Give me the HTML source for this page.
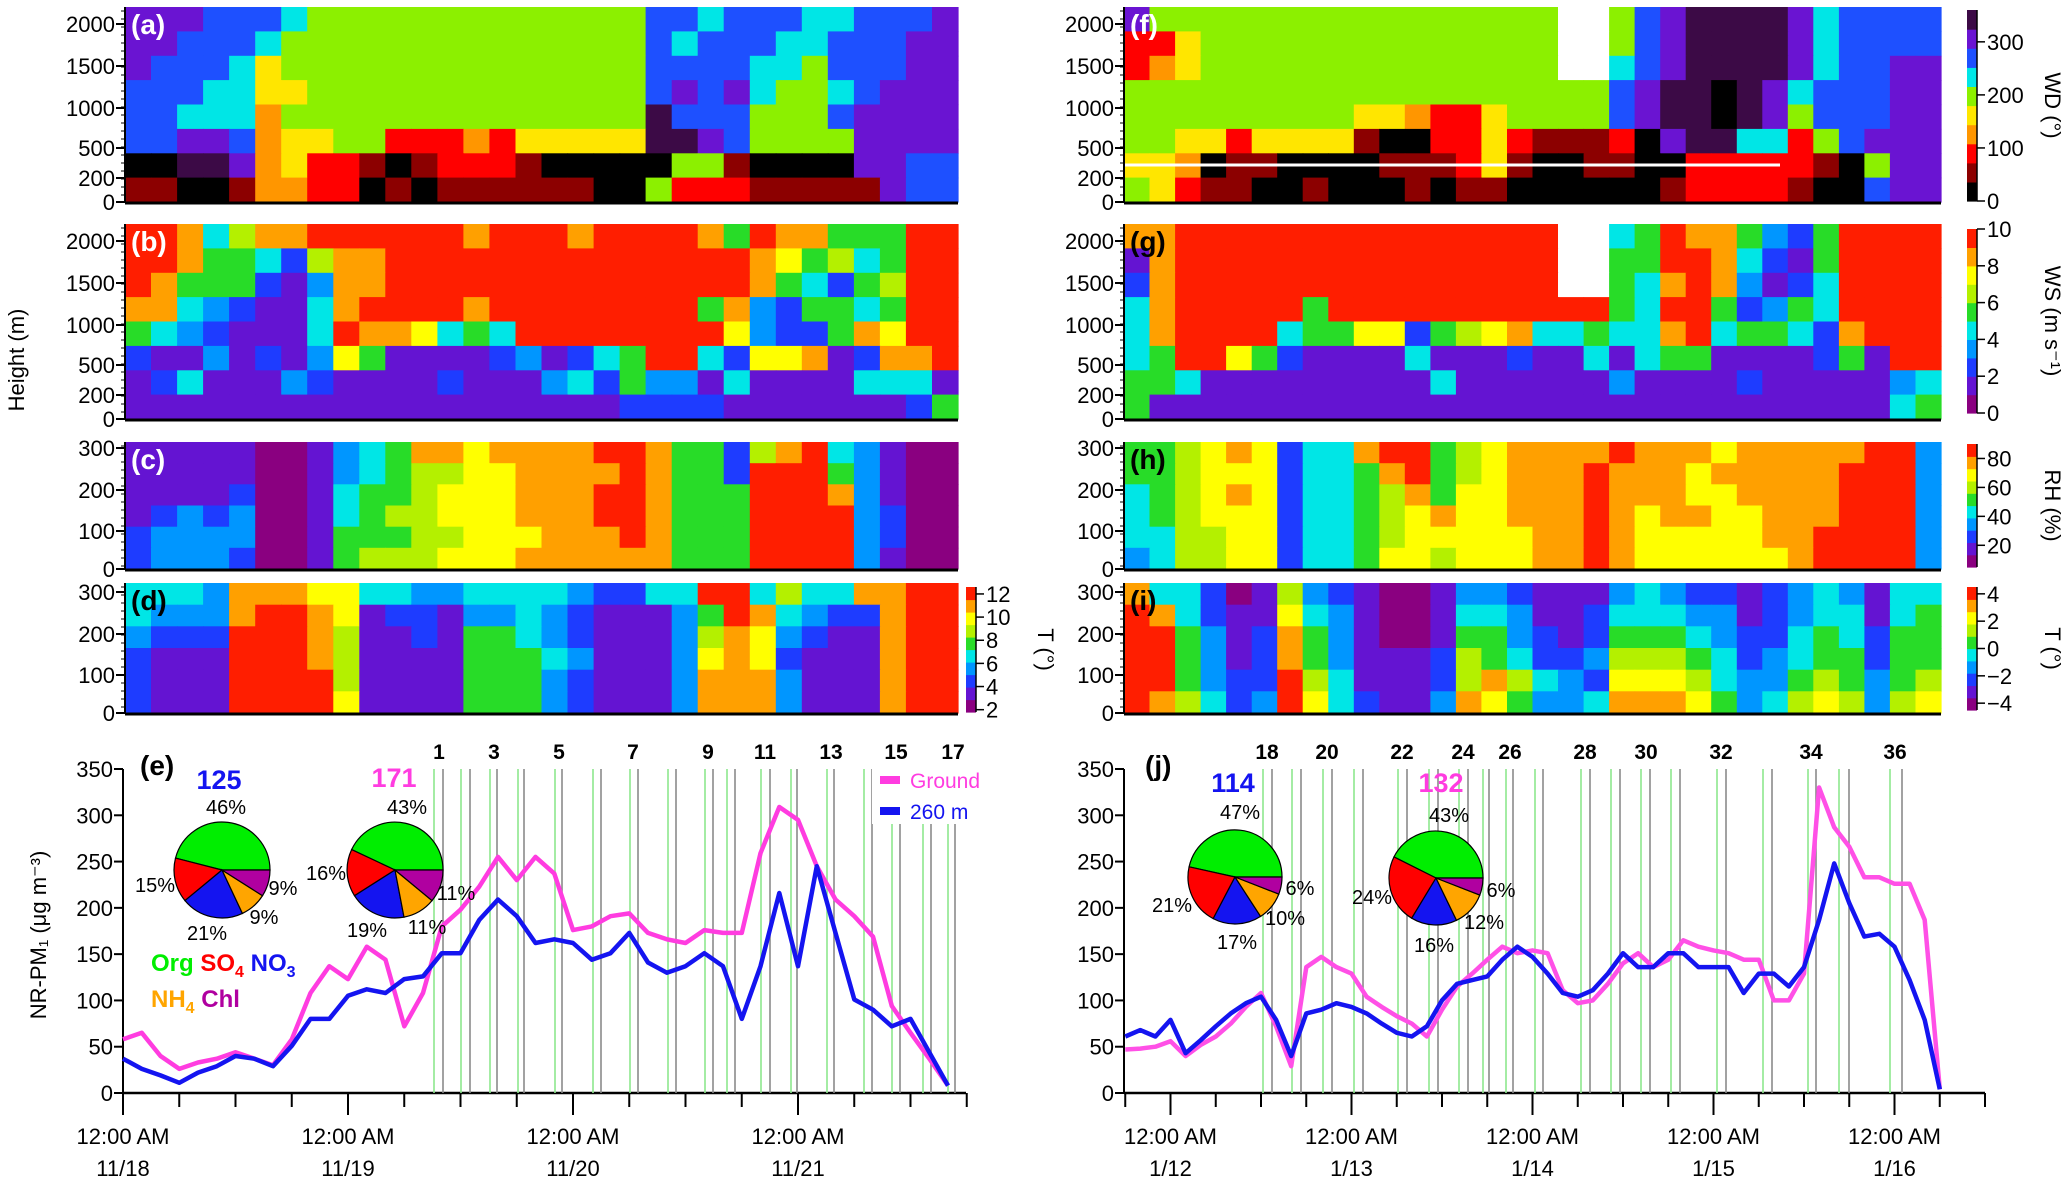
<!DOCTYPE html>
<html><head><meta charset="utf-8"><style>
html,body{margin:0;padding:0;background:#fff;}
svg{display:block;font-family:"Liberation Sans",sans-serif;}
</style></head><body>
<svg id="fig" width="2067" height="1183" viewBox="0 0 2067 1183" xmlns="http://www.w3.org/2000/svg">
<g id="heat"></g>
<g id="axes"></g>
<g id="lines"></g>
<g id="ann"></g>
</svg>
<script>
// ---------- heatmap data (level digits 0-9, '-' = missing) ----------
const panelA = ["88877765555555555555776777667778","88777655555555555555767776677788","87776455555555555555777766577788","77766445555555555555787865567888","77666355555555555555977755578888","77887344552223244444998755558888","00998342210122210000055100008877","11001332201011111100522211111877"];
const panelB = ["99846889999998999899998598855599","99855426889999999999999987564599","98555213889999999999999985425699","88432114899998999999995832554599","54321114988745499999999732258799","21131213751111231245994277812889","12411132111121113425331411114441","11111111111111111112222111111125"];
const panelC = ["11111001345887888899855268943100","11111001345667788889855299953100","11112001455677788899855599983100","12323001456677788899855599993200","23333001555667778889855599993200","23332001566677788888855599993100"];
const panelD = ["44438887744334444322449946448899","43338998712213343211135984322899","32229998611215543211136873211899","21119998611115554311137872111899","21119999611115553211138883111899","21119999711115553211138883111899"];
const panelF = ["85555555555555555--5789999867777","22455555555555555--5789999867777","23455555555555555--6789999867788","55555555555555555557899098677788","55555555544322455557899098577788","55442444410022421112089966257888","44301100001112410011002222210588","54211001000101100000012222100788"];
const panelG = ["88999999999999999--4598853259999","18999999999999999--5599842159999","28999999999999999--5489831249999","48999995999999999995499523549999","48999945577256784454489455428999","45997521111411121141455111125199","55411111111141111113111121111134","51111111111111111111111111111145"];
const panelH = ["55678724489956788889888788888993","55677724458956788898887888889993","45678724456857788898887788889993","45677724456787788898788778889993","44667724456777778898777778899993","34667724457767778898777777899993"];
const panelI = ["84420163210013321113432212343144","98421174310014431124443312344145","99531285310015532125554322454255","99531285311126542236665423455255","99532296411126864327776433565356","98642397421138753348887534676367"];
const rainbow = ['#8a0080','#6414d2','#1e3cff','#0096ff','#00e6e6','#28dc28','#b4f000','#ffff00','#ffa000','#ff1e00'];
const wdColors = ['#000000','#8c0000','#ff0000','#ff9600','#ffe600','#8cf000','#00e6e6','#1e50ff','#6a14d2','#3c0a46'];

// ---------- PM1 time series ----------
const leftHours = [0,2,4,6,8,10,12,14,16,18,20,22,24,26,28,30,32,34,36,38,40,42,44,46,48,50,52,54,56,58,60,62,64,66,68,70,72,74,76,78,80,82,84,86,88];
const leftGround = [58,65,40,26,33,37,44,37,30,58,108,137,123,158,144,72,108,180,198,223,255,230,255,237,176,180,191,194,173,166,162,176,173,173,259,309,295,245,209,191,169,94,65,37,8];
const left260 = [37,26,19,11,22,29,40,37,29,51,80,80,105,112,108,123,126,151,151,187,209,191,162,166,162,144,151,173,141,130,137,151,137,80,137,216,137,245,173,101,90,72,80,44,8];
const rightHours = [-6,-4,-2,0,2,4,6,8,10,12,14,16,18,20,22,24,26,28,30,32,34,36,38,40,42,44,46,48,50,52,54,56,58,60,62,64,66,68,70,72,74,76,78,80,82,84,86,88,90,92,94,96,98,100,102];
const rightGround = [47,48,50,56,40,52,61,75,93,108,72,29,136,147,136,129,104,93,83,75,61,90,115,129,144,158,151,154,151,111,97,100,118,140,151,136,144,165,158,154,151,144,144,100,100,129,330,287,266,233,233,226,226,187,4];
const right260 = [61,68,61,79,43,57,72,86,97,104,79,40,86,90,97,93,86,75,65,61,72,100,118,122,126,144,158,147,129,108,104,111,129,151,136,136,151,151,136,136,136,108,129,129,115,136,187,248,205,169,172,158,122,79,4];
const yTicksPM = [0,50,100,150,200,250,300,350];
const leftDays = ["11/18","11/19","11/20","11/21"];
const rightDays = ["1/12","1/13","1/14","1/15","1/16"];
const leftEventLabels = ["1","3","5","7","9","11","13","15","17"];
const rightEventLabels = ["18","20","22","24","26","28","30","32","34","36"];
const pieLabelsNames = ["Org","SO4","NO3","NH4","Chl"];
const pieE1 = [46,15,21,9,9];
const pieE2 = [43,16,19,11,11];
const pieJ1 = [47,21,17,10,6];
const pieJ2 = [43,24,16,12,6];
const pieTotals = [125,171,114,132];

const NS='http://www.w3.org/2000/svg';
function el(tag, attrs, parent){const e=document.createElementNS(NS,tag);for(const k in attrs)e.setAttribute(k,attrs[k]);parent.appendChild(e);return e;}
function txt(parent,x,y,s,size,opts){opts=opts||{};const t=el('text',{x:x,y:y,'font-size':size,fill:opts.fill||'#000','text-anchor':opts.anchor||'start'},parent);if(opts.bold)t.setAttribute('font-weight','bold');if(opts.rot)t.setAttribute('transform','rotate('+opts.rot+' '+x+' '+y+')');t.textContent=s;return t;}
const heat=document.getElementById('heat'), axes=document.getElementById('axes'), lines=document.getElementById('lines'), ann=document.getElementById('ann');

function drawHeat(rows, pal, x0,x1,y0,y1,name){
  const g=el('g',{},heat);
  
  
  const cols=32, nr=rows.length, cw=(x1-x0)/cols, ch=(y1-y0)/nr;
  rows.forEach((row,r)=>{
    let s=row; while(s.length<cols)s+=s[s.length-1];
    for(let c=0;c<cols;c++){
      const d=s[c]; const fill = d==='-' ? '#ffffff' : pal[+d];
      const rc=el('rect',{x:(x0+c*cw).toFixed(1),y:(y0+r*ch).toFixed(1),width:(cw+0.6).toFixed(1),height:(ch+0.6).toFixed(1),fill:fill},g);
      
      
    }
  });
}
const LX0=125,LX1=958,RX0=1124,RX1=1941;
const panY=[[7,202],[224,419],[442,569],[583,713]];
drawHeat(panelA,wdColors,LX0,LX1,panY[0][0],panY[0][1],'panel-a-wind-direction');
drawHeat(panelB,rainbow,LX0,LX1,panY[1][0],panY[1][1],'panel-b-wind-speed');
drawHeat(panelC,rainbow,LX0,LX1,panY[2][0],panY[2][1],'panel-c-rh');
drawHeat(panelD,rainbow,LX0,LX1,panY[3][0],panY[3][1],'panel-d-temperature');
drawHeat(panelF,wdColors,RX0,RX1,panY[0][0],panY[0][1],'panel-f-wind-direction');
drawHeat(panelG,rainbow,RX0,RX1,panY[1][0],panY[1][1],'panel-g-wind-speed');
drawHeat(panelH,rainbow,RX0,RX1,panY[2][0],panY[2][1],'panel-h-rh');
drawHeat(panelI,rainbow,RX0,RX1,panY[3][0],panY[3][1],'panel-i-temperature');
el('line',{x1:RX0,x2:1780,y1:165,y2:165,stroke:'#fff','stroke-width':3},heat);

// heatmap axes
const hTicksTall=[[0,202],[200,178],[500,148],[1000,108],[1500,66],[2000,24]];
const hTicksShort=[[0,569],[100,531],[200,490],[300,448]];
function heatAxes(x0,x1,y0,y1,ticks,off,label,lblColor){
  el('line',{x1:x0,x2:x1,y1:y1+1,y2:y1+1,stroke:'#000','stroke-width':3},axes);
  el('line',{x1:x0,x2:x0,y1:y0,y2:y1,stroke:'#000','stroke-width':2},axes);
  for(let y=y0+4;y<y1;y+=8) el('line',{x1:x0-4,x2:x0,y1:y,y2:y,stroke:'#000','stroke-width':1},axes);
  ticks.forEach(t=>{const y=t[1]+off;el('line',{x1:x0-9,x2:x0,y1:y,y2:y,stroke:'#000','stroke-width':2},axes);
    const tt=txt(axes,x0-10,y+8,String(t[0]),22,{anchor:'end'});
    
    });
  const pl=txt(axes,x0+6,y0+27,label,28,{bold:true,fill:lblColor});
  
  
}
heatAxes(LX0,LX1,7,202,hTicksTall,0,'(a)','#fff');
heatAxes(LX0,LX1,224,419,hTicksTall,217,'(b)','#fff');
heatAxes(LX0,LX1,442,569,hTicksShort,0,'(c)','#fff');
heatAxes(LX0,LX1,583,713,hTicksShort,144,'(d)','#000');
heatAxes(RX0,RX1,7,202,hTicksTall,0,'(f)','#fff');
heatAxes(RX0,RX1,224,419,hTicksTall,217,'(g)','#000');
heatAxes(RX0,RX1,442,569,hTicksShort,0,'(h)','#000');
heatAxes(RX0,RX1,583,713,hTicksShort,144,'(i)','#000');
const hl=txt(axes,24,360,'Height (m)',22,{anchor:'middle',rot:-90});



// colorbars
function colorbar(x,y0,y1,pal,ticks,vmin,vmax,title,tx){
  const n=pal.length,h=(y1-y0)/n;
  for(let i=0;i<n;i++){el('rect',{x:x,y:(y1-(i+1)*h).toFixed(1),width:10,height:(h+0.6).toFixed(1),fill:pal[i]},axes);}
  el('line',{x1:x+10,x2:x+10,y1:y0,y2:y1,stroke:'#000','stroke-width':1.5},axes);
  ticks.forEach(v=>{const y=y1-(v-vmin)/(vmax-vmin)*(y1-y0);el('line',{x1:x+10,x2:x+18,y1:y,y2:y,stroke:'#000','stroke-width':1.5},axes);
    const t=txt(axes,x+20,y+8,String(v).replace('-','\u2212'),22);
    
    });
  const tt=txt(axes,tx,(y0+y1)/2,title,22,{anchor:'middle',rot:90});
  
  
}
const wdBar=['#000000','#8c0000','#ff0000','#ff9600','#ffe600','#8cf000','#00e6e6','#1e50ff','#6a14d2','#3c0a46'];
colorbar(1967,10,201,wdBar,[0,100,200,300],0,360,'WD (°)',2045);
colorbar(1967,229,413,rainbow,[0,2,4,6,8,10],0,10,'WS (m s⁻¹)',2045);
colorbar(1967,444,567,rainbow,[20,40,60,80],5,90,'RH (%)',2045);
colorbar(1967,587,710,rainbow,[-4,-2,0,2,4],-4.5,4.5,'T (°)',2045);
colorbar(966,587,712,rainbow,[2,4,6,8,10,12],1.8,12.6,'T (°)',1038);

// ---------- PM1 charts ----------
const Y0=1093, YS=324/350;
function yv(v){return Y0-v*YS;}
function xL(h){return 123+h/24*225;}
function xR(h){return 1170.5+h/24*181;}
function pmAxes(xa,xb,xday0,dayW,days,ndays){
  el('line',{x1:xa,x2:xb,y1:Y0,y2:Y0,stroke:'#000','stroke-width':2.5},axes);
  el('line',{x1:xa,x2:xa,y1:769,y2:Y0,stroke:'#000','stroke-width':2},axes);
  yTicksPM.forEach(v=>{el('line',{x1:xa-9,x2:xa,y1:yv(v),y2:yv(v),stroke:'#000','stroke-width':2},axes);
    const t=txt(axes,xa-10,yv(v)+8,String(v),22,{anchor:'end'});
    
    });
  for(let q=-4;q<=ndays*4;q++){const x=xday0+q*dayW/4;if(x<xa-1||x>xb+1)continue;
    const major=q%4===0;el('line',{x1:x,x2:x,y1:Y0,y2:Y0+(major?22:14),stroke:'#000','stroke-width':2},axes);}
  days.forEach((d,i)=>{const x=xday0+i*dayW;
    const a=txt(axes,x,1144,'12:00 AM',22,{anchor:'middle'});
    
    
    const b=txt(axes,x,1176,d,22,{anchor:'middle'});
    
    });
}
pmAxes(123,966,123,225,leftDays,4);
pmAxes(1124,1985,1170.5,181,rightDays,5);
const yl=txt(axes,46,935,'NR-PM₁ (μg m⁻³)',22,{anchor:'middle',rot:-90});



// event lines
const leftGreen=[434,461,490,518,555,593,630,668,705,727,761,791,827,864,892,923,948];
const leftGray=[443,470,497,524,562,601,638,676,713,735,770,797,834,872,900,931,955];
const rightGreen=[1263,1292,1323,1354,1398,1429,1459,1483,1506,1535,1581,1611,1641,1671,1717,1763,1808,1839,1890];
const rightGray=[1272,1301,1332,1363,1407,1438,1468,1489,1513,1543,1590,1620,1650,1680,1726,1772,1816,1849,1902];
function evLines(arr,col){arr.forEach(x=>{const l=el('line',{x1:x,x2:x,y1:769,y2:Y0,stroke:col,'stroke-width':1.6},lines);
  
  });}
evLines(leftGreen,'#8ee88e');evLines(leftGray,'#8a8a8a');evLines(rightGreen,'#8ee88e');evLines(rightGray,'#8a8a8a');
const leftEvX=[439,494,559,633,708,765,831,896,953];
const rightEvX=[1267,1327,1402,1463,1510,1585,1646,1721,1811,1895];
leftEventLabels.forEach((s,i)=>{const t=txt(ann,leftEvX[i],759,s,21,{anchor:'middle',bold:true});
  
  });
rightEventLabels.forEach((s,i)=>{const t=txt(ann,rightEvX[i],759,s,21,{anchor:'middle',bold:true});
  
  });

function series(hours,vals,xf,color,name){
  const pts=hours.map((h,i)=>xf(h).toFixed(1)+','+yv(vals[i]).toFixed(1)).join(' ');
  const p=el('polyline',{points:pts,fill:'none',stroke:color,'stroke-width':4.5,'stroke-linejoin':'round'},lines);
  
  
}
series(leftHours,leftGround,xL,'#ff3ce0','ground-line-left');
series(leftHours,left260,xL,'#1414f0','260m-line-left');
series(rightHours,rightGround,xR,'#ff50e6','ground-line-right');
series(rightHours,right260,xR,'#1414f0','260m-line-right');

// legend (left)
el('rect',{x:872,y:764,width:95,height:60,fill:'#fff'},ann);
const lg1=el('rect',{x:880,y:776,width:20,height:8,fill:'#ff3ce0'},ann);


const lt1=txt(ann,910,788,'Ground',21,{fill:'#ff3ce0'});


const lg2=el('rect',{x:880,y:807,width:20,height:8,fill:'#1414f0'},ann);


const lt2=txt(ann,910,819,'260 m',21,{fill:'#1414f0'});



txt(ann,140,775,'(e)',28,{bold:true});
txt(ann,1145,775,'(j)',28,{bold:true});

// pies
const pieCols=['#00ee00','#ff0000','#1414f0','#ffa500','#b000a0'];
function pie(cx,cy,r,vals,labels,name){
  const g=el('g',{},ann);
  
  
  const tot=vals.reduce((a,b)=>a+b,0);let a0=0;
  vals.forEach((v,i)=>{const a1=a0+v/tot*2*Math.PI;
    const x0=cx+r*Math.cos(a0),y0=cy-r*Math.sin(a0),x1=cx+r*Math.cos(a1),y1=cy-r*Math.sin(a1);
    const large=(a1-a0)>Math.PI?1:0;
    const p=el('path',{d:`M${cx},${cy} L${x0.toFixed(1)},${y0.toFixed(1)} A${r},${r} 0 ${large} 0 ${x1.toFixed(1)},${y1.toFixed(1)} Z`,fill:pieCols[i],stroke:'#000','stroke-width':1.2},g);
    
    
    a0=a1;});
  labels.forEach(l=>{const t=txt(ann,l[0],l[1]+7,vals[l[2]]+'%',20,{anchor:'middle'});
    
    });
}
pie(222,870,48,pieE1,[[226,807,0],[155,885,1],[207,933,2],[264,917,3],[283,888,4]],'pie-e-260m');
pie(395,870,48,pieE2,[[407,807,0],[326,873,1],[367,930,2],[427,927,3],[456,893,4]],'pie-e-ground');
pie(1235,877,47,pieJ1,[[1240,812,0],[1172,905,1],[1237,942,2],[1285,918,3],[1300,888,4]],'pie-j-260m');
pie(1436,878,47,pieJ2,[[1449,815,0],[1372,897,1],[1434,945,2],[1484,922,3],[1501,890,4]],'pie-j-ground');
const totPos=[[219,789,'#1414f0'],[394,787,'#ff3ce0'],[1233,792,'#1414f0'],[1441,792,'#ff3ce0']];
pieTotals.forEach((v,i)=>{const t=txt(ann,totPos[i][0],totPos[i][1],String(v),27,{anchor:'middle',bold:true,fill:totPos[i][2]});
  
  });

const sp=el('text',{x:151,y:971,'font-size':24,'font-weight':'bold'},ann);


sp.innerHTML='<tspan fill="#00ee00">Org</tspan> <tspan fill="#ff0000">SO<tspan font-size="16" dy="6">4</tspan></tspan><tspan dy="-6"> </tspan><tspan fill="#1414f0">NO<tspan font-size="16" dy="6">3</tspan></tspan>';
const sp2=el('text',{x:151,y:1007,'font-size':24,'font-weight':'bold'},ann);


sp2.innerHTML='<tspan fill="#ffa500">NH<tspan font-size="16" dy="6">4</tspan></tspan><tspan dy="-6"> </tspan><tspan fill="#b000a0">Chl</tspan>';
</script>
</body></html>
